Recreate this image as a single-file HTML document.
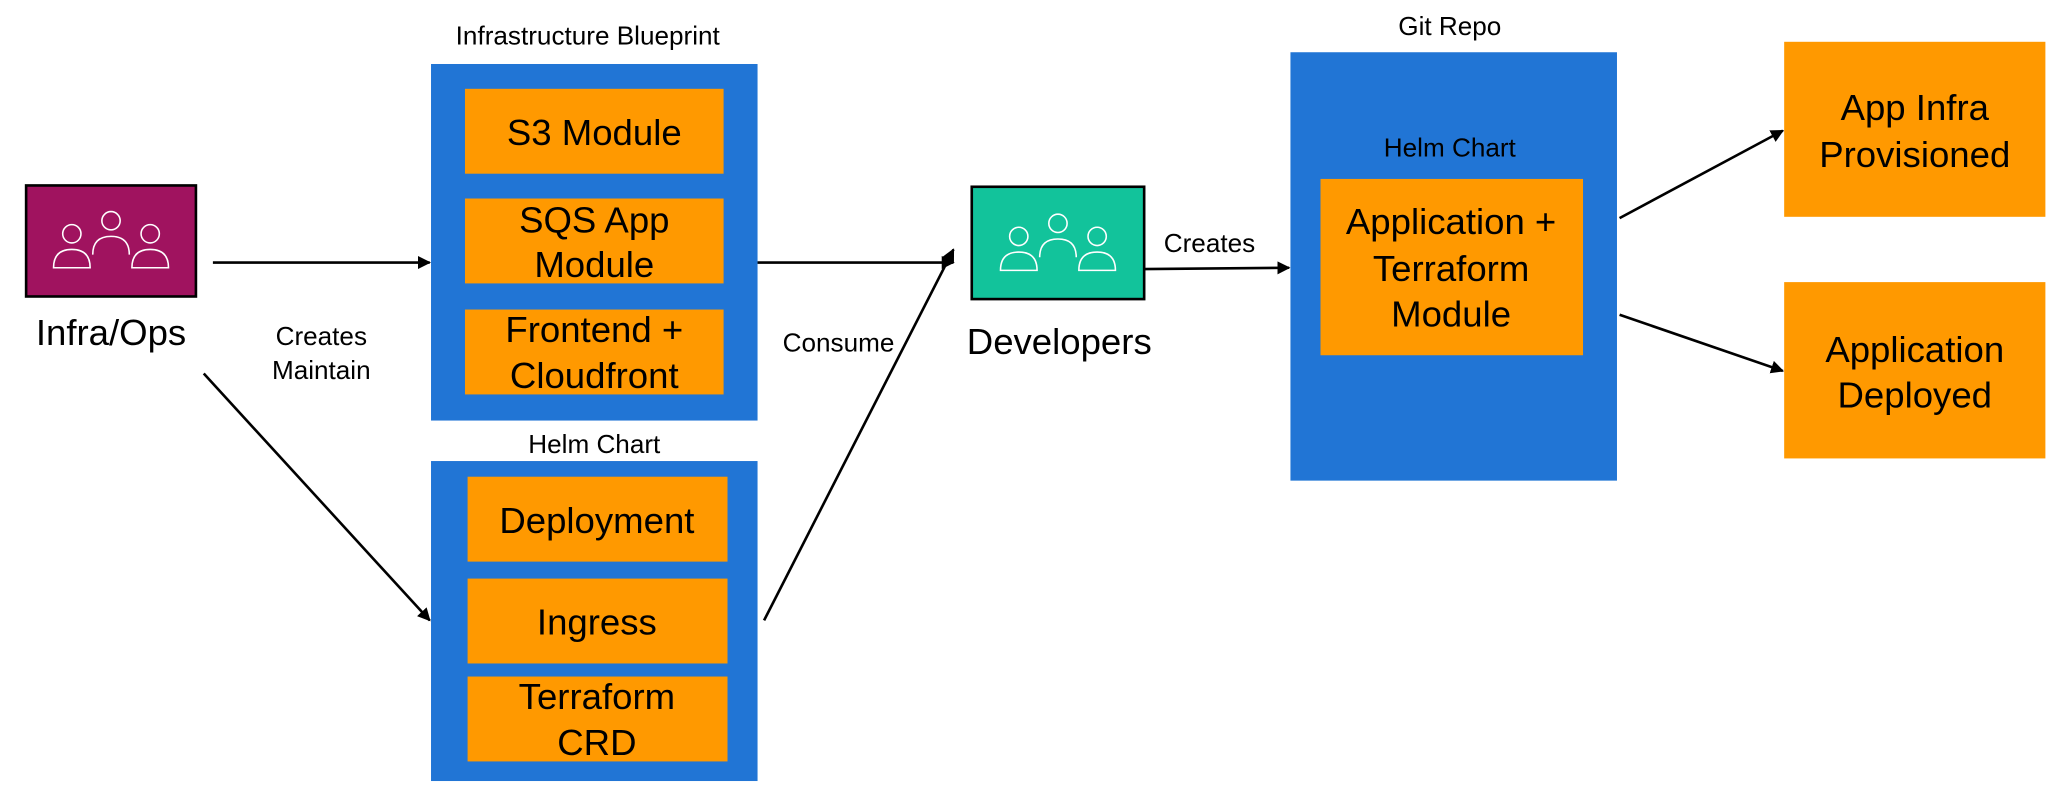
<!DOCTYPE html>
<html><head><meta charset="utf-8"><style>
html,body{margin:0;padding:0;background:#fff;width:2048px;height:792px;overflow:hidden}
text{font-family:"Liberation Sans",sans-serif;fill:#000}
</style></head><body>
<svg width="2048" height="792" viewBox="0 0 1568 606.4" preserveAspectRatio="none" xmlns="http://www.w3.org/2000/svg">
<defs>
<marker id="a" markerWidth="10" markerHeight="10" refX="9" refY="5" orient="auto" markerUnits="userSpaceOnUse"><path d="M0,0 L10,5 L0,10 z" fill="#000"/></marker>
<g id="ppl" fill="none" stroke="#fff" stroke-width="1.2">
<circle cx="-30" cy="-8" r="7"/><path d="M-44,18 q0,-14 14,-14 q14,0 14,14 z"/>
<circle cx="0" cy="-18" r="7"/><path d="M-14,8 q0,-14 14,-14 q14,0 14,14"/>
<circle cx="30" cy="-8" r="7"/><path d="M16,18 q0,-14 14,-14 q14,0 14,14 z"/>
</g>
</defs>
<!-- Infra/Ops -->
<rect x="20" y="142" width="130" height="85" fill="#a0135f" stroke="#000" stroke-width="2"/>
<use href="#ppl" x="85" y="187"/>
<text x="85" y="264" font-size="28" text-anchor="middle">Infra/Ops</text>
<text x="246" y="264" font-size="20" text-anchor="middle">Creates</text>
<text x="246" y="290" font-size="20" text-anchor="middle">Maintain</text>
<line x1="163" y1="201" x2="329" y2="201" stroke="#000" stroke-width="2" marker-end="url(#a)"/>
<line x1="156" y1="286" x2="329" y2="475" stroke="#000" stroke-width="2" marker-end="url(#a)"/>
<!-- Infra Blueprint -->
<text x="450" y="34" font-size="20" text-anchor="middle">Infrastructure Blueprint</text>
<rect x="330" y="49" width="250" height="273" fill="#2175d5"/>
<rect x="356" y="68" width="198" height="65" fill="#ff9900"/>
<text x="455" y="111" font-size="28" text-anchor="middle">S3 Module</text>
<rect x="356" y="152" width="198" height="65" fill="#ff9900"/>
<text x="455" y="178" font-size="28" text-anchor="middle">SQS App</text>
<text x="455" y="212" font-size="28" text-anchor="middle">Module</text>
<rect x="356" y="237" width="198" height="65" fill="#ff9900"/>
<text x="455" y="262" font-size="28" text-anchor="middle">Frontend +</text>
<text x="455" y="297" font-size="28" text-anchor="middle">Cloudfront</text>
<!-- Helm Chart -->
<text x="455" y="347" font-size="20" text-anchor="middle">Helm Chart</text>
<rect x="330" y="353" width="250" height="245" fill="#2175d5"/>
<rect x="358" y="365" width="199" height="65" fill="#ff9900"/>
<text x="457" y="408" font-size="28" text-anchor="middle">Deployment</text>
<rect x="358" y="443" width="199" height="65" fill="#ff9900"/>
<text x="457" y="486" font-size="28" text-anchor="middle">Ingress</text>
<rect x="358" y="518" width="199" height="65" fill="#ff9900"/>
<text x="457" y="543" font-size="28" text-anchor="middle">Terraform</text>
<text x="457" y="578" font-size="28" text-anchor="middle">CRD</text>
<!-- to developers -->
<line x1="580" y1="201" x2="730" y2="201" stroke="#000" stroke-width="2" marker-end="url(#a)"/>
<line x1="585" y1="475" x2="730" y2="191" stroke="#000" stroke-width="2" marker-end="url(#a)"/>
<text x="642" y="269" font-size="20" text-anchor="middle">Consume</text>
<rect x="744" y="143" width="132" height="86" fill="#12c39b" stroke="#000" stroke-width="2"/>
<use href="#ppl" x="810" y="189"/>
<text x="811" y="271" font-size="28" text-anchor="middle">Developers</text>
<line x1="876" y1="206" x2="987" y2="205" stroke="#000" stroke-width="2" marker-end="url(#a)"/>
<text x="926" y="193" font-size="20" text-anchor="middle">Creates</text>
<!-- Git Repo -->
<text x="1110" y="27" font-size="20" text-anchor="middle">Git Repo</text>
<rect x="988" y="40" width="250" height="328" fill="#2175d5"/>
<text x="1110" y="120" font-size="20" text-anchor="middle">Helm Chart</text>
<rect x="1011" y="137" width="201" height="135" fill="#ff9900"/>
<text x="1111" y="179" font-size="28" text-anchor="middle">Application +</text>
<text x="1111" y="215" font-size="28" text-anchor="middle">Terraform</text>
<text x="1111" y="250" font-size="28" text-anchor="middle">Module</text>
<line x1="1240" y1="167" x2="1365" y2="100" stroke="#000" stroke-width="2" marker-end="url(#a)"/>
<line x1="1240" y1="241" x2="1365" y2="284" stroke="#000" stroke-width="2" marker-end="url(#a)"/>
<rect x="1366" y="32" width="200" height="134" fill="#ff9900"/>
<text x="1466" y="92" font-size="28" text-anchor="middle">App Infra</text>
<text x="1466" y="128" font-size="28" text-anchor="middle">Provisioned</text>
<rect x="1366" y="216" width="200" height="135" fill="#ff9900"/>
<text x="1466" y="277" font-size="28" text-anchor="middle">Application</text>
<text x="1466" y="312" font-size="28" text-anchor="middle">Deployed</text>
</svg>
</body></html>
